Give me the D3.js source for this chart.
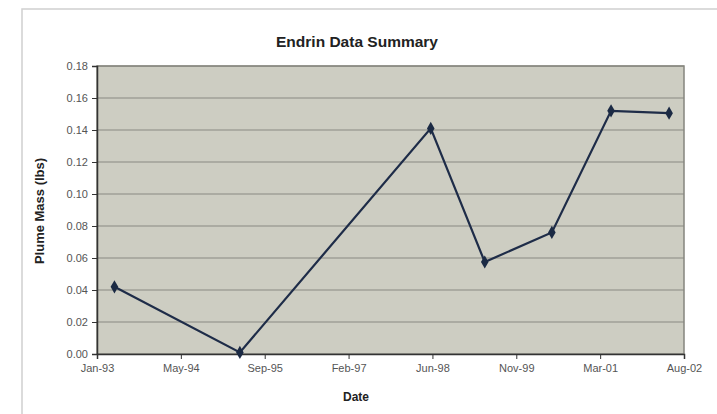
<!DOCTYPE html>
<html><head><meta charset="utf-8">
<script src="https://cdn.jsdelivr.net/npm/d3@7"></script>
<style>body{margin:0;background:#fff;} svg{display:block;font-family:"Liberation Sans",Arial,sans-serif;}</style>
</head><body><svg id="c" width="717" height="414"></svg>
<script>
const sampleDates = ["1993-04-15","1995-05-03","1998-06-14","1999-05-02","2000-06-05","2001-05-24","2002-05-05"];
const plumeMass = [0.042, 0.001, 0.141, 0.0575, 0.076, 0.152, 0.1505];
const yTicks = [0,0.02,0.04,0.06,0.08,0.10,0.12,0.14,0.16,0.18];
const xTickLabels = ["Jan-93","May-94","Sep-95","Feb-97","Jun-98","Nov-99","Mar-01","Aug-02"];

const svg = d3.select("#c");
const L=97,R=684,T=66,B=354;
const parse = d3.utcParse("%Y-%m-%d");
const start = parse("1993-01-01");
const end = d3.utcDay.offset(start, 3500);
const x = d3.scaleUtc().domain([start,end]).range([L,R]);
const y = d3.scaleLinear().domain([0,0.18]).range([B,T]);
const xTickDates = xTickLabels.map((_,i)=>d3.utcDay.offset(start,i*500));

// chart area border
svg.append("rect").attr("x",22).attr("y",9).attr("width",720).attr("height",420)
  .attr("fill","#fff").attr("stroke","#d0d0d0").attr("stroke-width",1.5);

svg.append("rect").attr("x",L).attr("y",T).attr("width",R-L).attr("height",B-T)
  .attr("fill","#cdcdc2");

// gridlines
svg.append("g").selectAll("line").data(yTicks.slice(1)).join("line")
  .attr("x1",L).attr("x2",R).attr("y1",d=>y(d)).attr("y2",d=>y(d))
  .attr("stroke","#8a8a82").attr("stroke-width",1.2);

svg.append("rect").attr("x",L).attr("y",T).attr("width",R-L).attr("height",B-T)
  .attr("fill","none").attr("stroke","#85857e").attr("stroke-width",1.5);

// axes
const yAxis = d3.axisLeft(y).tickValues(yTicks).tickFormat(d3.format(".2f")).tickSize(5).tickPadding(4);
const gy = svg.append("g").attr("transform",`translate(${L},0)`).call(yAxis);
const xAxis = d3.axisBottom(x).tickValues(xTickDates).tickFormat((d,i)=>xTickLabels[i]).tickSize(5).tickPadding(5);
const gx = svg.append("g").attr("transform",`translate(0,${B})`).call(xAxis);
[gx,gy].forEach(g=>{
  g.selectAll("path").attr("stroke","#333").attr("stroke-width",1.5);
  g.selectAll("line").attr("stroke","#333");
  g.selectAll("text").attr("fill","#555").attr("font-size","11px").attr("font-family","'Liberation Sans',Arial,sans-serif");
});

// line
const pts = sampleDates.map((d,i)=>({d:parse(d),v:plumeMass[i]}));
svg.append("path").datum(pts).attr("fill","none").attr("stroke","#1e2c48").attr("stroke-width",2.2)
  .attr("d",d3.line().x(p=>x(p.d)).y(p=>y(p.v)));
svg.append("g").selectAll("path").data(pts).join("path")
  .attr("transform",p=>`translate(${x(p.d)},${y(p.v)})`)
  .attr("d",d3.symbol(d3.symbolDiamond,50))
  .attr("fill","#1b2a44");

// titles
svg.append("text").attr("x",357).attr("y",47).attr("text-anchor","middle")
  .attr("font-size","15.5px").attr("font-weight","bold").attr("fill","#222").text("Endrin Data Summary");
svg.append("text").attr("x",356).attr("y",401).attr("text-anchor","middle")
  .attr("font-size","12px").attr("font-weight","bold").attr("fill","#222").text("Date");
svg.append("text").attr("transform","translate(44,211) rotate(-90)").attr("text-anchor","middle")
  .attr("font-size","13px").attr("font-weight","bold").attr("fill","#222").text("Plume Mass (lbs)");
</script></body></html>
